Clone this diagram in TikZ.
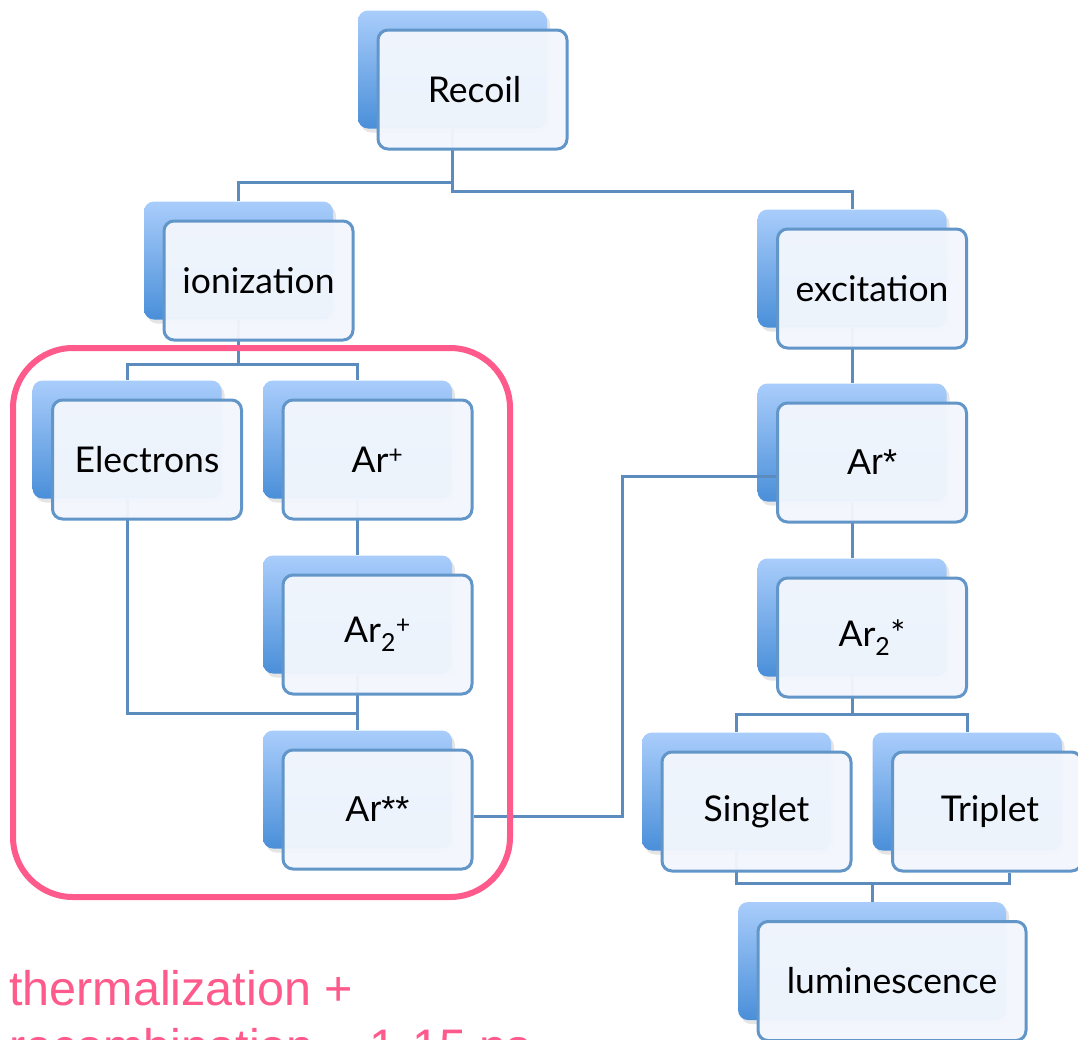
\documentclass[tikz,border=0pt]{standalone}
\usepackage{fontspec}
\setmainfont{Lato}
\newfontfamily\helv{Liberation Sans}
\usetikzlibrary{calc,shadows}
\definecolor{boxtop}{HTML}{A9CDFB}
\definecolor{boxbot}{HTML}{4A8FD9}
\definecolor{edgec}{HTML}{6296C9}
\definecolor{frontfill}{HTML}{F3F7FD}
\definecolor{wire}{HTML}{5C8BBE}
\definecolor{pinkc}{HTML}{FF5A8C}
\pgfdeclarelayer{front}
\pgfsetlayers{main,front}
\tikzset{
 backbox/.style={rectangle, rounded corners=10pt, minimum width=189pt, minimum height=118pt, inner sep=0pt,
   top color=boxtop, bottom color=boxbot, draw=none,
   drop shadow={opacity=0.2, shadow xshift=3pt, shadow yshift=-4pt}},
 frontbox/.style={rectangle, rounded corners=10pt, minimum width=189pt, minimum height=119pt, inner sep=0pt,
   draw=edgec, line width=3pt, fill=frontfill, fill opacity=0.96, text opacity=1,
   font=\fontsize{35.5}{42}\selectfont},
 helvtext/.style={font=\helv\fontsize{36}{42}\selectfont},
 wireline/.style={draw=wire, line width=3pt},
 notetext/.style={anchor=base west, text=pinkc, inner sep=0pt, font=\helv\fontsize{48.5}{56}\selectfont},
}
\begin{document}
\begin{tikzpicture}[x=1pt,y=-1pt]
\useasboundingbox (0,0) rectangle (1078,1039);
\clip (0,0) rectangle (1078,1039);
\fill[white] (0,0) rectangle (1078,1039);
% back boxes
\node[backbox] (recB)   at (452.5,69.5) {};
\node[backbox] (ionB)   at (238.5,260.5) {};
\node[backbox] (excB)   at (852,268.5) {};
\node[backbox] (elecB)  at (127,439.5) {};
\node[backbox] (arpB)   at (357.5,439.5) {};
\node[backbox] (arsB)   at (852,442.5) {};
\node[backbox] (ar2pB)  at (357.5,614.5) {};
\node[backbox] (ar2sB)  at (852,617.5) {};
\node[backbox] (arssB)  at (357.5,789.5) {};
\node[backbox] (singB)  at (736.5,791.5) {};
\node[backbox] (tripB)  at (967,791.5) {};
\node[backbox, minimum width=268pt] (lumB) at (872,961) {};
% front boxes
\begin{pgfonlayer}{front}
\node[frontbox] (rec)  at ($(recB)+(20,20)$) {\hspace*{4pt}Recoil};
\node[frontbox] (ion)  at ($(ionB)+(20,20)$) {ionization};
\node[frontbox] (exc)  at ($(excB)+(20,20)$) {excitation};
\node[frontbox] (elec) at ($(elecB)+(20,20)$) {Electrons};
\node[frontbox] (arp)  at ($(arpB)+(20,20)$) {Ar\textsuperscript{+}};
\node[frontbox, helvtext] (ars)  at ($(arsB)+(20,20)$) {Ar*};
\node[frontbox] (ar2p) at ($(ar2pB)+(20,20)$) {Ar\textsubscript{2}\textsuperscript{+}};
\node[frontbox] (ar2s) at ($(ar2sB)+(20,20)$) {Ar\textsubscript{2}*};
\node[frontbox, helvtext] (arss) at ($(arssB)+(20,20)$) {Ar**};
\node[frontbox] (sing) at ($(singB)+(20,20)$) {Singlet};
\node[frontbox] (trip) at ($(tripB)+(20,20)$) {\hspace*{6pt}Triplet};
\node[frontbox, minimum width=268pt] (lum) at ($(lumB)+(20,20)$) {luminescence};
\end{pgfonlayer}
\coordinate (arssout) at ([yshift=-7pt]arss.east);
\coordinate (bend) at (622,476);
\coordinate (tripdrop) at ([xshift=22pt]trip.south);
% connectors
\draw[wireline] (recB.south) -- (recB.south |- 0,182) -| (ionB.north);
\draw[wireline] (recB.south) -- (recB.south |- 0,191) -| (excB.north);
\draw[wireline] (ionB.south) -- (ionB.south |- 0,364) -| (elecB.north);
\draw[wireline] (ionB.south |- 0,364) -| (arpB.north);
\draw[wireline] (elecB.south) |- (arssB.north |- 0,713);
\draw[wireline] (arpB.south) -- (ar2pB.north);
\draw[wireline] (ar2pB.south) -- (arssB.north);
\draw[wireline] (arssout) -| (bend) -- (ars.west |- bend);
\draw[wireline] (excB.south) -- (arsB.north);
\draw[wireline] (arsB.south) -- (ar2sB.north);
\draw[wireline] (ar2sB.south) -- (ar2sB.south |- 0,714) -| (singB.north);
\draw[wireline] (ar2sB.south |- 0,714) -| (tripB.north);
\draw[wireline] (singB.south) |- (tripdrop |- 0,883) -- (tripdrop);
\draw[wireline] (lumB.north) -- (lumB.north |- 0,883);
% highlight frame
\draw[pinkc, line width=6pt, rounded corners=60pt] (13,348) rectangle (510,897);
\node[notetext] (note1) at (9,1005) {thermalization +};
\node[notetext] (note2) at (9,1063) {recombination \textasciitilde\ 1-15 ns};
\end{tikzpicture}
\end{document}
